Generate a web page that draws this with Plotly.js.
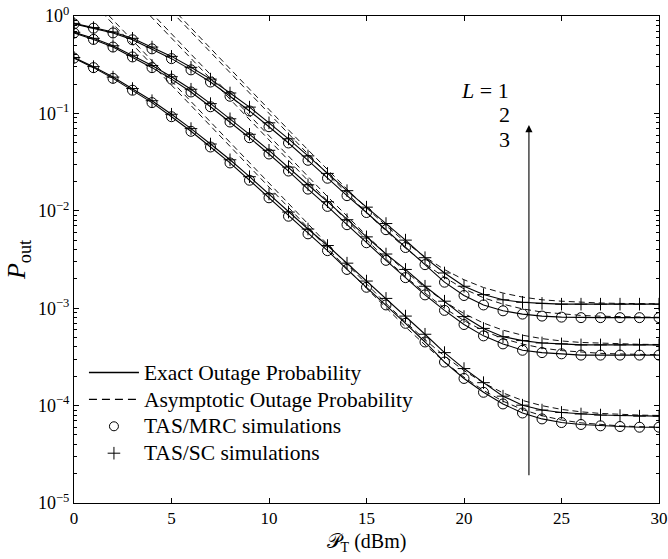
<!DOCTYPE html>
<html>
<head>
<meta charset="utf-8">
<script src="https://cdn.plot.ly/plotly-3.0.1.min.js"></script>
<style>html,body{margin:0;padding:0;background:#fff;}#chart{width:668px;height:559px;}</style>
</head>
<body>
<div id="chart"></div>
<script>
// Transmit power P_T (dBm)
var powerDbm = [0,1,2,3,4,5,6,7,8,9,10,11,12,13,14,15,16,17,18,19,20,21,22,23,24,25,26,27,28,29,30];

// Exact outage probability (lines) / simulations (markers), TAS/MRC
var exactMrcTop = [0.83,0.75,0.67,0.57,0.46,0.365,0.28,0.21,0.15,0.106,0.073,0.0497,0.033,0.0216,0.0143,0.0096,0.0064,0.0042,0.0028,0.00185,0.00135,0.00108,0.00094,0.00087,0.00083,0.00081,0.0008,0.0008,0.0008,0.0008,0.0008];
var exactMrcMid = [0.67,0.575,0.48,0.38,0.295,0.225,0.166,0.117,0.0816,0.0563,0.0383,0.0256,0.0167,0.0111,0.0072,0.0047,0.0031,0.00206,0.00137,0.00095,0.00068,0.00052,0.00043,0.00037,0.00035,0.00034,0.00033,0.00033,0.00033,0.00033,0.00033];
var exactMrcBot = [0.37,0.295,0.229,0.173,0.129,0.0925,0.0655,0.0452,0.031,0.0206,0.0136,0.0088,0.0058,0.0039,0.0025,0.00164,0.00108,0.0007,0.00045,0.00028,0.00019,0.000137,0.000104,0.000084,0.000073,0.000067,0.000064,0.000062,0.000061,0.00006,0.00006];

// Exact outage probability / simulations, TAS/SC
var exactScTop = [0.84,0.76,0.685,0.59,0.48,0.385,0.297,0.225,0.162,0.116,0.08,0.0548,0.0366,0.0242,0.0161,0.0109,0.0074,0.005,0.0033,0.0023,0.00168,0.00138,0.00122,0.00115,0.00112,0.0011,0.0011,0.0011,0.0011,0.0011,0.0011];
var exactScMid = [0.68,0.59,0.495,0.395,0.31,0.238,0.177,0.126,0.088,0.061,0.0418,0.0281,0.0185,0.0124,0.0081,0.0054,0.0036,0.0025,0.00168,0.00118,0.00082,0.00062,0.00051,0.000465,0.00044,0.00043,0.00042,0.00042,0.00042,0.00042,0.00042];
var exactScBot = [0.375,0.302,0.236,0.18,0.135,0.098,0.0698,0.0485,0.0334,0.0224,0.0149,0.0097,0.0065,0.0044,0.0029,0.0019,0.00126,0.00083,0.00054,0.00035,0.00024,0.000172,0.000125,0.000101,0.00009,0.000085,0.000082,0.00008,0.000079,0.000078,0.000078];

// Asymptotic outage probability (dashed)
var asymMrcTop = [12.4,7.65,4.71,2.91,1.79,1.105,0.681,0.42,0.259,0.1605,0.0993,0.0615,0.0382,0.0239,0.015,0.00958,0.00621,0.00414,0.00286,0.00207,0.00158,0.00128,0.0011,0.000984,0.000913,0.00087,0.000843,0.000827,0.000816,0.00081,0.000806];
var asymScTop = [13.6,8.39,5.17,3.19,1.97,1.21,0.748,0.462,0.285,0.176,0.109,0.0677,0.0422,0.0264,0.0167,0.0107,0.00704,0.00476,0.00336,0.00249,0.00196,0.00163,0.00143,0.0013,0.00122,0.00118,0.00115,0.00113,0.00112,0.00111,0.00111];
var asymMrcMid = [6.6,4.07,2.51,1.55,0.954,0.588,0.363,0.224,0.138,0.0853,0.0528,0.0327,0.0203,0.0126,0.00791,0.005,0.00321,0.00211,0.00143,0.001,0.000746,0.000587,0.000488,0.000428,0.00039,0.000367,0.000353,0.000344,0.000339,0.000335,0.000333];
var asymScMid = [7.3,4.5,2.78,1.71,1.06,0.651,0.401,0.248,0.153,0.0944,0.0584,0.0362,0.0225,0.014,0.0088,0.00559,0.00361,0.00239,0.00163,0.00117,0.00088,0.000704,0.000595,0.000528,0.000487,0.000461,0.000445,0.000436,0.00043,0.000426,0.000424];
var asymMrcBot = [2.17,1.338,0.825,0.509,0.314,0.193,0.119,0.0736,0.0454,0.028,0.0173,0.0107,0.00661,0.0041,0.00255,0.0016,0.00101,0.000643,0.00042,0.000281,0.000196,0.000143,0.000111,0.0000911,0.0000788,0.0000712,0.0000665,0.0000636,0.0000619,0.0000608,0.0000601];
var asymScBot = [2.39,1.474,0.909,0.56,0.345,0.213,0.131,0.081,0.05,0.0309,0.0191,0.0118,0.0073,0.00453,0.00282,0.00177,0.00112,0.000721,0.000475,0.000323,0.000229,0.000171,0.000135,0.000113,0.0000998,0.0000914,0.0000863,0.0000831,0.0000812,0.0000799,0.0000792];

// Axis ticks
var yTickVals = [1e-5,1e-4,1e-3,1e-2,1e-1,1];
var yTickText = ['10<sup>\u22125</sup>','10<sup>\u22124</sup>','10<sup>\u22123</sup>','10<sup>\u22122</sup>','10<sup>\u22121</sup>','10<sup>0</sup>'];
var xTickVals = [0,5,10,15,20,25,30];
var xTickText = ['0','5','10','15','20','25','30'];

var FONT = 'Liberation Serif, Times New Roman, serif';
var exactSets = [exactMrcTop, exactMrcMid, exactMrcBot, exactScTop, exactScMid, exactScBot];
var asymSets = [asymMrcTop, asymMrcMid, asymMrcBot, asymScTop, asymScMid, asymScBot];
var mrcSets = [exactMrcTop, exactMrcMid, exactMrcBot];
var scSets = [exactScTop, exactScMid, exactScBot];

function big(t) { return '<span style="font-size:21.5px">' + t + '</span>'; }

var traces = [];
asymSets.forEach(function (s) {
  traces.push({x: powerDbm, y: s, mode: 'lines', type: 'scatter',
    line: {color: '#111', width: 1, dash: '6px,4px'},
    name: 'Asymptotic Outage Probability', showlegend: false, hoverinfo: 'skip'});
});
exactSets.forEach(function (s) {
  traces.push({x: powerDbm, y: s, mode: 'lines', type: 'scatter',
    line: {color: '#000', width: 1.1},
    name: 'Exact Outage Probability', showlegend: false});
});
mrcSets.forEach(function (s) {
  traces.push({x: powerDbm, y: s, mode: 'markers', type: 'scatter',
    marker: {symbol: 'circle-open', size: 10, color: '#000', line: {width: 1, color: '#000'}},
    name: 'TAS/MRC simulations', showlegend: false});
});
scSets.forEach(function (s) {
  traces.push({x: powerDbm, y: s, mode: 'markers', type: 'scatter',
    marker: {symbol: 'cross-thin-open', size: 9, color: '#000', line: {width: 1, color: '#000'}},
    name: 'TAS/SC simulations', showlegend: false});
});
// legend entries (order)
traces.push({x: [null], y: [null], mode: 'lines', type: 'scatter', line: {color: '#000', width: 1.6}, name: big('Exact Outage Probability'), showlegend: true});
traces.push({x: [null], y: [null], mode: 'lines', type: 'scatter', line: {color: '#000', width: 1.3, dash: '8px,5px'}, name: big('Asymptotic Outage Probability'), showlegend: true});
traces.push({x: [null], y: [null], mode: 'markers', type: 'scatter', marker: {symbol: 'circle-open', size: 9, color: '#000', line: {width: 1}}, name: big('TAS/MRC simulations'), showlegend: true});
traces.push({x: [null], y: [null], mode: 'markers', type: 'scatter', marker: {symbol: 'cross-thin-open', size: 9, color: '#000', line: {width: 1}}, name: big('TAS/SC simulations'), showlegend: true});

var layout = {
  width: 668, height: 559,
  margin: {l: 74, r: 9, t: 16, b: 56},
  paper_bgcolor: '#fff', plot_bgcolor: '#fff',
  font: {family: FONT, size: 17, color: '#000'},
  showlegend: true,
  legend: {x: 0.017, y: 0.306, xanchor: 'left', yanchor: 'top', bgcolor: 'rgba(0,0,0,0)', borderwidth: 0,
    font: {family: FONT, size: 18.4, color: '#000'}, itemwidth: 50, tracegroupgap: 0},
  xaxis: {range: [0, 30], tickmode: 'array', tickvals: xTickVals, ticktext: xTickText,
    ticks: 'inside', ticklen: 5, tickcolor: '#000', showline: true, linecolor: '#000', linewidth: 1, mirror: 'ticks',
    showgrid: false, zeroline: false, tickfont: {family: FONT, size: 17},
    title: {text: '\uD835\uDCAB<sub>T</sub> (dBm)', font: {family: FONT, size: 20}, standoff: 6}},
  yaxis: {type: 'log', range: [-5, 0], tickmode: 'array', tickvals: yTickVals, ticktext: yTickText,
    ticks: 'inside', ticklen: 5, tickcolor: '#000', showline: true, linecolor: '#000', linewidth: 1, mirror: 'ticks',
    showgrid: false, zeroline: false, tickfont: {family: FONT, size: 18},
    minor: {ticks: 'inside', ticklen: 3, tickcolor: '#000', dtick: 'D1', showgrid: false},
    title: {text: '<i>P</i><sub>out</sub>', font: {family: FONT, size: 26}, standoff: 4}},
  annotations: [
    {xref: 'x', yref: 'y', x: 23.33, y: -1.12, ax: 23.33, ay: -4.73, axref: 'x', ayref: 'y', text: '',
      showarrow: true, arrowhead: 2, arrowsize: 1.3, arrowwidth: 1.1, arrowcolor: '#000'},
    {xref: 'x', yref: 'y', x: 21.1, y: -0.767, text: '<i>L</i> = 1', showarrow: false, font: {family: FONT, size: 22}},
    {xref: 'x', yref: 'y', x: 22.1, y: -1.016, text: '2', showarrow: false, font: {family: FONT, size: 22}},
    {xref: 'x', yref: 'y', x: 22.1, y: -1.263, text: '3', showarrow: false, font: {family: FONT, size: 22}}
  ]
};

Plotly.newPlot('chart', traces, layout, {displayModeBar: false, staticPlot: true});
</script>
</body>
</html>
